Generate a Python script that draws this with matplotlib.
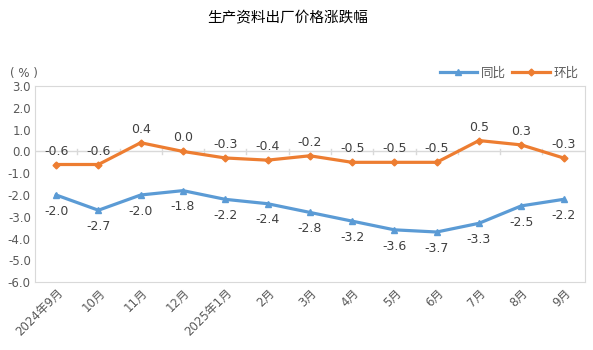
import matplotlib.pyplot as plt
import numpy as np

plt.rcParams['font.family'] = ['DejaVu Sans', 'Noto Sans CJK SC']

months = ['2024年9月', '10月', '11月', '12月', '2025年1月', '2月', '3月',
          '4月', '5月', '6月', '7月', '8月', '9月']
yoy = [-2.0, -2.7, -2.0, -1.8, -2.2, -2.4, -2.8, -3.2, -3.6, -3.7, -3.3, -2.5, -2.2]
mom = [-0.6, -0.6, 0.4, 0.0, -0.3, -0.4, -0.2, -0.5, -0.5, -0.5, 0.5, 0.3, -0.3]

blue = '#5B9BD5'
orange = '#ED7D31'
grey = '#595959'

fig = plt.figure(figsize=(5.93, 3.5), dpi=100)
ax = fig.add_axes([0.059, 0.194, 0.927, 0.56])

x = np.arange(len(months))
ax.plot(x, yoy, color=blue, lw=2.3, marker='^', ms=5, label='同比')
ax.plot(x, mom, color=orange, lw=2.3, marker='D', ms=3.5, label='环比')

for i in range(len(months)):
    ax.annotate(f'{yoy[i]:.1f}', (x[i], yoy[i]), xytext=(0, -7), textcoords='offset points',
                ha='center', va='top', fontsize=9, color='#404040')
    ax.annotate(f'{mom[i]:.1f}', (x[i], mom[i]), xytext=(0, 5), textcoords='offset points',
                ha='center', va='bottom', fontsize=9, color='#404040')

ax.set_xlim(-0.5, len(months) - 0.5)
ax.set_ylim(-6, 3)
ax.set_yticks(np.arange(-6, 3.1, 1))
ax.set_yticklabels([f'{v:.1f}' for v in np.arange(-6, 3.1, 1)], fontsize=8.5, color=grey)
ax.set_xticks(x)
ax.set_xticklabels(months, rotation=45, ha='right', rotation_mode='anchor',
                   fontsize=8.5, color=grey)
ax.tick_params(axis='both', length=0, pad=3)
ax.axhline(0, color='#D9D9D9', lw=1, zorder=0)
for b in np.arange(0.5, len(months) - 0.5, 1):
    ax.plot([b, b], [-0.12, 0.12], color='#D9D9D9', lw=1, zorder=0)
for s in ax.spines.values():
    s.set_color('#D9D9D9')

ax.legend(loc='lower right', bbox_to_anchor=(1.0, 1.0), ncol=2, frameon=False,
          fontsize=9, labelcolor=grey, handlelength=3, columnspacing=0.5,
          handletextpad=0.3, borderaxespad=0.1)

fig.text(0.017, 0.79, '( % )', fontsize=8.5, color=grey, ha='left', va='center')
fig.text(0.485, 0.95, '生产资料出厂价格涨跌幅', fontsize=10.5, ha='center', va='center',
         color='black')

fig.savefig('out.png', dpi=100)
